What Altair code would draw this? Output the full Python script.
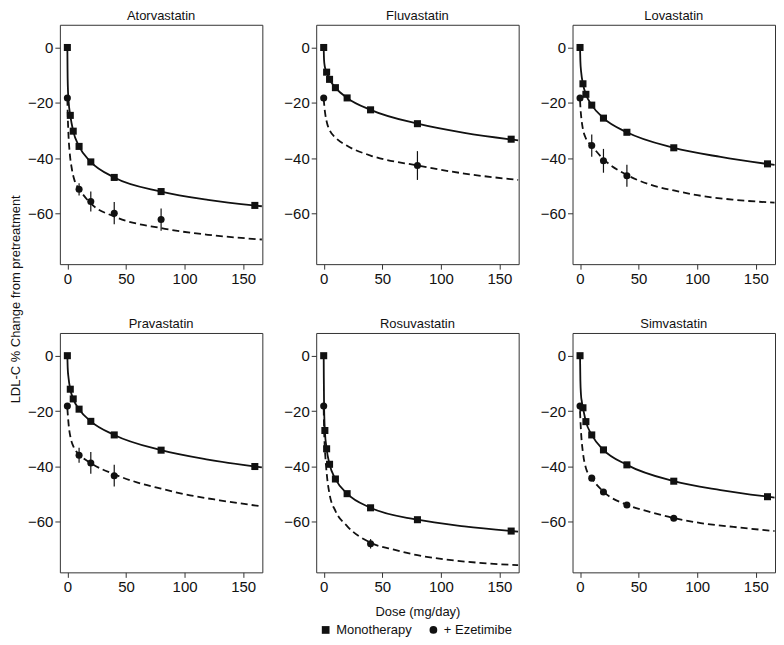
import altair as alt
import pandas as pd

FONT = "Liberation Sans"
INK = "#111111"

DRUGS = ["Atorvastatin", "Fluvastatin", "Lovastatin", "Pravastatin", "Rosuvastatin", "Simvastatin"]
SERIES = ["Monotherapy", "+ Ezetimibe"]
X_TICKS = [0, 50, 100, 150]
Y_TICKS = [0, -20, -40, -60]

# observed monotherapy doses (squares)
STD_DOSES = [0, 2.5, 5, 10, 20, 40, 80, 160]
ROSU_DOSES = [0, 1, 2.5, 5, 10, 20, 40, 80, 160]

# ---------------- Atorvastatin
ATOR_MONO = [0, -24.5, -30.2, -35.7, -41.3, -46.9, -52.0, -57.0]
ATOR_EZE_DOSE = [0, 10, 20, 40, 80]
ATOR_EZE = [-18.2, -51.2, -55.6, -59.8, -62.1]
ATOR_EZE_ERR = [0, 2.2, 3.6, 4.0, 4.0]
ATOR_FIT_DOSE = [0, 0.15, 0.4, 1, 2.5, 5, 10, 20, 40, 80, 120, 166]
ATOR_FIT = [0, -8, -14, -19, -24.5, -30.2, -35.7, -41.3, -46.9, -52.0, -55.0, -57.3]
ATOR_EFIT_DOSE = [0, 0.3, 1, 2, 3.7, 6.5, 10, 20, 40, 80, 120, 166]
ATOR_EFIT = [-18.5, -24, -32, -38, -43.5, -48.5, -51, -56.3, -61, -65.2, -67.6, -69.3]

# ---------------- Fluvastatin
FLUV_MONO = [0, -8.9, -11.5, -14.5, -18.2, -22.5, -27.5, -33.1]
FLUV_EZE_DOSE = [0, 80]
FLUV_EZE = [-18.2, -42.6]
FLUV_EZE_ERR = [0, 5.2]
FLUV_FIT_DOSE = [0, 0.3, 1, 2.5, 5, 10, 20, 40, 80, 120, 166]
FLUV_FIT = [0, -4.5, -7, -8.9, -11.5, -14.5, -18.2, -22.5, -27.5, -30.8, -33.5]
FLUV_EFIT_DOSE = [0, 0.5, 1.5, 3, 5, 10, 20, 40, 80, 120, 166]
FLUV_EFIT = [-18.5, -21, -24.5, -27.5, -29.8, -32.5, -35.5, -39, -42.6, -45.5, -47.8]

# ---------------- Lovastatin
LOVA_MONO = [0, -13.1, -16.9, -20.8, -25.5, -30.6, -36.2, -42.0]
LOVA_EZE_DOSE = [0, 10, 20, 40]
LOVA_EZE = [-18.2, -35.4, -40.9, -46.3]
LOVA_EZE_ERR = [0, 4.0, 4.3, 4.0]
LOVA_FIT_DOSE = [0, 0.3, 1, 2.5, 5, 10, 20, 40, 80, 120, 166]
LOVA_FIT = [0, -5, -9, -13.1, -16.9, -20.8, -25.5, -30.6, -36.2, -39.5, -42.4]
LOVA_EFIT_DOSE = [0, 0.4, 1, 2.5, 5, 10, 20, 40, 60, 80, 100, 130, 166]
LOVA_EFIT = [-19, -22, -25, -29.5, -32.8, -35.5, -40.3, -46, -49.5, -51.6, -53.3, -54.9, -56]

# ---------------- Pravastatin
PRAV_MONO = [0, -12.1, -15.6, -19.3, -23.7, -28.6, -34.1, -40.0]
PRAV_EZE_DOSE = [0, 10, 20, 40]
PRAV_EZE = [-18.2, -35.9, -38.7, -43.3]
PRAV_EZE_ERR = [0, 2.7, 3.9, 3.9]
PRAV_FIT_DOSE = [0, 0.3, 1, 2.5, 5, 10, 20, 40, 80, 120, 166]
PRAV_FIT = [0, -4.5, -8, -12.1, -15.6, -19.3, -23.7, -28.6, -34.1, -37.5, -40.3]
PRAV_EFIT_DOSE = [0, 0.5, 1.5, 2.75, 5.5, 10, 20, 40, 60, 80, 100, 130, 166]
PRAV_EFIT = [-19, -22, -26.5, -29.6, -33.1, -35.6, -38.8, -42.8, -45.8, -48, -50, -52.2, -54.4]

# ---------------- Rosuvastatin
ROSU_MONO = [0, -27.0, -33.6, -39.2, -44.5, -49.8, -54.9, -59.2, -63.3]
ROSU_EZE_DOSE = [0, 40]
ROSU_EZE = [-18.2, -67.9]
ROSU_EZE_ERR = [0, 1.7]
ROSU_FIT_DOSE = [0, 0.1, 0.3, 0.6, 1, 2.5, 5, 10, 20, 40, 80, 120, 166]
ROSU_FIT = [0, -8, -17, -23, -27.0, -33.6, -39.2, -44.5, -49.8, -54.9, -59.2, -61.6, -63.5]
ROSU_EFIT_DOSE = [0, 0.3, 0.8, 1.5, 2.8, 5, 10, 20, 40, 60, 80, 103, 131, 166]
ROSU_EFIT = [-19, -26, -32, -37, -43.5, -50, -56, -61.5, -67.5, -70, -72, -73.5, -74.7, -75.6]

# ---------------- Simvastatin
SIMV_MONO = [0, -18.8, -23.8, -28.6, -34.0, -39.4, -45.3, -50.9]
SIMV_EZE_DOSE = [0, 10, 20, 40, 80]
SIMV_EZE = [-18.2, -44.2, -49.2, -53.9, -58.7]
SIMV_EZE_ERR = [0, 0.8, 0.8, 0.8, 0.8]
SIMV_FIT_DOSE = [0, 0.3, 0.8, 1.5, 2.5, 5, 10, 20, 40, 80, 120, 166]
SIMV_FIT = [0, -9, -14, -16.5, -18.8, -23.8, -28.6, -34.0, -39.4, -45.3, -48.5, -51.2]
SIMV_EFIT_DOSE = [0, 0.3, 1, 2.5, 5, 10, 20, 40, 58, 80, 103, 131, 166]
SIMV_EFIT = [-20, -23, -28.5, -35, -40.5, -44.2, -49.1, -53.8, -56.2, -58.6, -60.4, -61.8, -63.3]

PANELS = [
    ("Atorvastatin", STD_DOSES, ATOR_MONO, ATOR_EZE_DOSE, ATOR_EZE, ATOR_EZE_ERR,
     ATOR_FIT_DOSE, ATOR_FIT, ATOR_EFIT_DOSE, ATOR_EFIT),
    ("Fluvastatin", STD_DOSES, FLUV_MONO, FLUV_EZE_DOSE, FLUV_EZE, FLUV_EZE_ERR,
     FLUV_FIT_DOSE, FLUV_FIT, FLUV_EFIT_DOSE, FLUV_EFIT),
    ("Lovastatin", STD_DOSES, LOVA_MONO, LOVA_EZE_DOSE, LOVA_EZE, LOVA_EZE_ERR,
     LOVA_FIT_DOSE, LOVA_FIT, LOVA_EFIT_DOSE, LOVA_EFIT),
    ("Pravastatin", STD_DOSES, PRAV_MONO, PRAV_EZE_DOSE, PRAV_EZE, PRAV_EZE_ERR,
     PRAV_FIT_DOSE, PRAV_FIT, PRAV_EFIT_DOSE, PRAV_EFIT),
    ("Rosuvastatin", ROSU_DOSES, ROSU_MONO, ROSU_EZE_DOSE, ROSU_EZE, ROSU_EZE_ERR,
     ROSU_FIT_DOSE, ROSU_FIT, ROSU_EFIT_DOSE, ROSU_EFIT),
    ("Simvastatin", STD_DOSES, SIMV_MONO, SIMV_EZE_DOSE, SIMV_EZE, SIMV_EZE_ERR,
     SIMV_FIT_DOSE, SIMV_FIT, SIMV_EFIT_DOSE, SIMV_EFIT),
]

W, H = 203, 240


def make_panel(name, md, mv, ed, ev, ee, fd, fv, efd, efv):
    pts = pd.DataFrame({
        "dose": list(md) + list(ed),
        "val": list(mv) + list(ev),
        "series": [SERIES[0]] * len(md) + [SERIES[1]] * len(ed),
    })
    errs = pd.DataFrame({"dose": ed, "val": ev, "err": ee})
    fit = pd.DataFrame({"dose": fd, "val": fv})
    efit = pd.DataFrame({"dose": efd, "val": efv})

    xaxis = dict(values=X_TICKS)
    if name == "Rosuvastatin":
        xaxis["title"] = "Dose (mg/day)"
    else:
        xaxis["title"] = None
    xs = alt.Scale(domain=[-6.4, 166.4], nice=False, zero=False)
    ys = alt.Scale(domain=[-78.2, 8.2], nice=False, zero=False)
    x = alt.X("dose:Q", scale=xs, axis=alt.Axis(**xaxis))
    y = alt.Y("val:Q", scale=ys, axis=alt.Axis(values=Y_TICKS, title=None))

    solid = alt.Chart(fit).mark_line(color=INK, strokeWidth=1.8, clip=True,
                                     interpolate="monotone").encode(x=x, y=y)
    dashed = alt.Chart(efit).mark_line(color=INK, strokeWidth=1.8, clip=True,
                                       strokeDash=[7, 4],
                                       interpolate="monotone").encode(x=x, y=y)
    bars = alt.Chart(errs).transform_calculate(
        lo="datum.val - datum.err", hi="datum.val + datum.err"
    ).mark_rule(color=INK, strokeWidth=1.2).encode(
        x=x, y=alt.Y("lo:Q", scale=ys), y2="hi:Q")
    points = alt.Chart(pts).mark_point(filled=True, opacity=1, size=50, color=INK).encode(
        x=x, y=y,
        shape=alt.Shape("series:N",
                        scale=alt.Scale(domain=SERIES, range=["square", "circle"]),
                        legend=alt.Legend(orient="none", legendX=260, legendY=600,
                                          direction="horizontal", title=None,
                                          labelFontSize=13, labelFont=FONT,
                                          labelColor=INK, symbolSize=60,
                                          symbolFillColor=INK, symbolStrokeColor=INK,
                                          columnPadding=14)))
    return alt.layer(solid, dashed, bars, points).properties(
        width=W, height=H,
        title=alt.Title(name, fontSize=13, fontWeight="normal", font=FONT,
                        color=INK, offset=2))


panels = [make_panel(*p) for p in PANELS]

chart = alt.concat(*panels, columns=3, spacing={"row": 30, "column": 20}).properties(
    title=alt.Title("LDL-C % Change from pretreatment", orient="left", anchor="middle",
                    fontSize=13, fontWeight="normal", font=FONT, color=INK, offset=4,
                    dx=24),
    padding={"left": 2, "top": 0, "right": 0, "bottom": 0},
).configure_view(
    stroke="#333333", strokeWidth=1
).configure_axis(
    labelFont=FONT, labelFontSize=15, labelColor=INK, tickColor="#333333",
    tickSize=5, labelPadding=2, domain=False, grid=False,
    titleFont=FONT, titleFontSize=13, titleFontWeight="normal", titleColor=INK,
    titlePadding=11,
)

chart.save("out.html", embed_options={"renderer": "svg", "actions": False})
